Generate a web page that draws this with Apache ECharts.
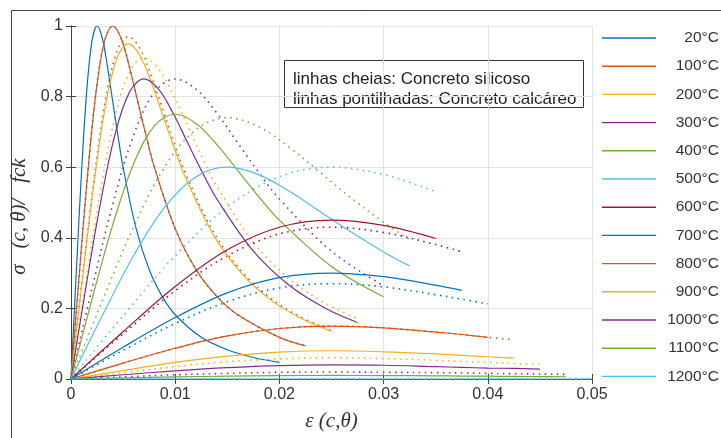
<!DOCTYPE html>
<html>
<head>
<meta charset="utf-8">
<script src="https://cdn.jsdelivr.net/npm/echarts@6/dist/echarts.min.js"></script>
<style>
  html, body { margin: 0; padding: 0; background: #fff; }
  #chart { width: 721px; height: 438px; }
</style>
</head>
<body>
<div id="chart"></div>
<script>
// temperaturas (legenda)
const temps = ['20°C', '100°C', '200°C', '300°C', '400°C', '500°C', '600°C',
  '700°C', '800°C', '900°C', '1000°C', '1100°C', '1200°C'];

// ticks
const xTicks = [0, 0.01, 0.02, 0.03, 0.04, 0.05];
const yTicks = [0, 0.2, 0.4, 0.6, 0.8, 1];

// concreto silicoso (linhas cheias) - pares [ε, σ/fck]
const sil20 = [[0, 0], [0.0005, 0.299], [0.001, 0.581], [0.0015, 0.812], [0.002, 0.955], [0.0025, 1], [0.003, 0.966],
  [0.0035, 0.885], [0.004, 0.787], [0.0045, 0.69], [0.005, 0.6], [0.00625, 0.426], [0.0075, 0.31], [0.00875, 0.234],
  [0.01, 0.182], [0.0125, 0.118], [0.015, 0.083], [0.0175, 0.061], [0.02, 0.047]];
const sil100 = [[0, 0], [0.0008, 0.299], [0.0016, 0.581], [0.0024, 0.812], [0.0032, 0.955], [0.004, 1], [0.0048, 0.966],
  [0.0056, 0.885], [0.0064, 0.787], [0.0072, 0.69], [0.008, 0.6], [0.01, 0.426], [0.012, 0.31], [0.014, 0.234],
  [0.016, 0.182], [0.02, 0.118], [0.0225, 0.094]];
const sil200 = [[0, 0], [0.0011, 0.284], [0.0022, 0.552], [0.0033, 0.772], [0.0044, 0.908], [0.0055, 0.95], [0.0066, 0.917],
  [0.0077, 0.841], [0.0088, 0.748], [0.0099, 0.655], [0.011, 0.57], [0.01375, 0.404], [0.0165, 0.295], [0.01925, 0.222],
  [0.022, 0.173], [0.025, 0.135]];
const sil300 = [[0, 0], [0.0014, 0.254], [0.0028, 0.494], [0.0042, 0.69], [0.0056, 0.812], [0.007, 0.85], [0.0084, 0.821],
  [0.0098, 0.753], [0.0112, 0.669], [0.0126, 0.586], [0.014, 0.51], [0.0175, 0.362], [0.021, 0.264], [0.0245, 0.199],
  [0.0275, 0.16]];
const sil400 = [[0, 0], [0.002, 0.224], [0.004, 0.436], [0.006, 0.609], [0.008, 0.717], [0.01, 0.75], [0.012, 0.724],
  [0.014, 0.664], [0.016, 0.591], [0.018, 0.517], [0.02, 0.45], [0.025, 0.319], [0.03, 0.233]];
const sil500 = [[0, 0], [0.003, 0.179], [0.006, 0.349], [0.009, 0.487], [0.012, 0.573], [0.015, 0.6], [0.018, 0.579],
  [0.021, 0.531], [0.024, 0.472], [0.027, 0.414], [0.03, 0.36], [0.0325, 0.32]];
const sil600 = [[0, 0], [0.005, 0.134], [0.01, 0.262], [0.015, 0.366], [0.02, 0.43], [0.025, 0.45], [0.03, 0.435],
  [0.035, 0.398]];
const sil700 = [[0, 0], [0.005, 0.09], [0.01, 0.174], [0.015, 0.244], [0.02, 0.287], [0.025, 0.3], [0.03, 0.29],
  [0.035, 0.266], [0.0375, 0.251]];
const sil800 = [[0, 0], [0.005, 0.045], [0.01, 0.087], [0.015, 0.122], [0.02, 0.143], [0.025, 0.15], [0.03, 0.145],
  [0.035, 0.133], [0.0375, 0.126], [0.04, 0.118]];
const sil900 = [[0, 0], [0.005, 0.024], [0.01, 0.047], [0.015, 0.065], [0.02, 0.076], [0.025, 0.08], [0.03, 0.077],
  [0.035, 0.071], [0.0375, 0.067], [0.04, 0.063], [0.0425, 0.059]];
const sil1000 = [[0, 0], [0.005, 0.012], [0.01, 0.023], [0.015, 0.032], [0.02, 0.038], [0.025, 0.04], [0.03, 0.039],
  [0.035, 0.035], [0.0375, 0.033], [0.04, 0.031], [0.0425, 0.03], [0.045, 0.028]];
const sil1100 = [[0, 0], [0.005, 0.003], [0.01, 0.006], [0.015, 0.008], [0.02, 0.0096], [0.025, 0.01], [0.03, 0.0097],
  [0.035, 0.0089], [0.0375, 0.0084], [0.04, 0.0079], [0.0425, 0.0074], [0.045, 0.0069], [0.0475, 0.0064]];
const sil1200 = [[0, 0], [0.05, 0]];

// concreto calcáreo (linhas pontilhadas)
const cal20 = [[0, 0], [0.0008, 0.299], [0.0016, 0.581], [0.0024, 0.812], [0.0032, 0.955], [0.004, 1], [0.0048, 0.966],
  [0.0056, 0.885], [0.0064, 0.787], [0.0072, 0.69], [0.008, 0.6], [0.01, 0.426], [0.012, 0.31], [0.014, 0.234],
  [0.016, 0.182], [0.02, 0.118], [0.0225, 0.094]];
const cal100 = [[0, 0], [0.0011, 0.29], [0.0022, 0.564], [0.0033, 0.788], [0.0044, 0.927], [0.0055, 0.97], [0.0066, 0.937],
  [0.0077, 0.859], [0.0088, 0.764], [0.0099, 0.669], [0.011, 0.582], [0.01375, 0.413], [0.0165, 0.301], [0.01925, 0.227],
  [0.022, 0.176], [0.025, 0.138]];
const cal200 = [[0, 0], [0.0014, 0.272], [0.0028, 0.529], [0.0042, 0.739], [0.0056, 0.869], [0.007, 0.91], [0.0084, 0.879],
  [0.0098, 0.806], [0.0112, 0.717], [0.0126, 0.627], [0.014, 0.546], [0.0175, 0.387], [0.021, 0.282], [0.0245, 0.213],
  [0.0275, 0.171]];
const cal300 = [[0, 0], [0.002, 0.254], [0.004, 0.494], [0.006, 0.69], [0.008, 0.812], [0.01, 0.85], [0.012, 0.821],
  [0.014, 0.753], [0.016, 0.669], [0.018, 0.586], [0.02, 0.51], [0.025, 0.362], [0.03, 0.264]];
const cal400 = [[0, 0], [0.003, 0.221], [0.006, 0.43], [0.009, 0.601], [0.012, 0.707], [0.015, 0.74], [0.018, 0.715],
  [0.021, 0.655], [0.024, 0.583], [0.027, 0.51], [0.03, 0.444], [0.0325, 0.395]];
const cal500 = [[0, 0], [0.005, 0.179], [0.01, 0.349], [0.015, 0.487], [0.02, 0.573], [0.025, 0.6], [0.03, 0.579],
  [0.035, 0.531]];
const cal600 = [[0, 0], [0.005, 0.128], [0.01, 0.25], [0.015, 0.349], [0.02, 0.411], [0.025, 0.43], [0.03, 0.415],
  [0.035, 0.381], [0.0375, 0.36]];
const cal700 = [[0, 0], [0.005, 0.081], [0.01, 0.157], [0.015, 0.219], [0.02, 0.258], [0.025, 0.27], [0.03, 0.261],
  [0.035, 0.239], [0.0375, 0.226], [0.04, 0.213]];
const cal800 = [[0, 0], [0.005, 0.045], [0.01, 0.087], [0.015, 0.122], [0.02, 0.143], [0.025, 0.15], [0.03, 0.145],
  [0.035, 0.133], [0.0375, 0.126], [0.04, 0.118], [0.0425, 0.111]];
const cal900 = [[0, 0], [0.005, 0.018], [0.01, 0.035], [0.015, 0.049], [0.02, 0.057], [0.025, 0.06], [0.03, 0.058],
  [0.035, 0.053], [0.0375, 0.05], [0.04, 0.047], [0.0425, 0.044], [0.045, 0.041]];
const cal1000 = [[0, 0], [0.005, 0.006], [0.01, 0.012], [0.015, 0.016], [0.02, 0.019], [0.025, 0.02], [0.03, 0.019],
  [0.035, 0.018], [0.0375, 0.017], [0.04, 0.016], [0.0425, 0.015], [0.045, 0.014], [0.0475, 0.013]];
const cal1100 = [[0, 0], [0.05, 0]];
const cal1200 = [[0, 0], [0.05, 0]];

const silicoso = [sil20, sil100, sil200, sil300, sil400, sil500, sil600, sil700, sil800, sil900, sil1000, sil1100, sil1200];
const calcareo = [cal20, cal100, cal200, cal300, cal400, cal500, cal600, cal700, cal800, cal900, cal1000, cal1100, cal1200];

// cores padrão do matlab
const cores = ['#0072BD', '#D95319', '#EDB120', '#7E2F8E', '#77AC30', '#4DBEEE', '#A2142F'];

const series = [];
temps.forEach((t, i) => {
  const color = cores[i % cores.length];
  series.push({
    name: t,
    type: 'line',
    data: silicoso[i],
    symbol: 'none',
    smooth: 0.35,
    lineStyle: { width: 1.2, color },
    itemStyle: { color },
    z: 3,
  });
});
temps.forEach((t, i) => {
  const color = cores[i % cores.length];
  series.push({
    name: t,
    type: 'line',
    data: calcareo[i],
    symbol: 'none',
    smooth: 0.35,
    lineStyle: { width: 1.6, color, type: [1.5, 4.5] },
    itemStyle: { color },
    z: 2,
  });
});

const fonte = '"Liberation Sans", Arial, sans-serif';
const fonteSerif = '"Liberation Serif", serif';
const corTexto = '#333';

const chart = echarts.init(document.getElementById('chart'), null, { renderer: 'canvas' });
chart.setOption({
  animation: false,
  backgroundColor: '#fff',
  grid: { left: 71, right: 129, top: 26, bottom: 59, containLabel: false },
  legend: {
    data: temps,
    orient: 'vertical',
    left: 597,
    top: 25,
    itemWidth: 54,
    itemHeight: 16,
    itemGap: 12.2,
    icon: 'path://M0,0H100V2.6H0Z',
    formatter: '{t|{name}}',
    textStyle: {
      rich: { t: { width: 58, lineHeight: 16, align: 'right', fontSize: 15.5, fontFamily: fonte, color: corTexto } },
    },
  },
  xAxis: [
    {
      type: 'value',
      min: 0,
      max: 0.05,
      interval: 0.01,
      name: 'ε (c,θ)',
      nameLocation: 'middle',
      nameGap: 32,
      nameTextStyle: { fontFamily: fonteSerif, fontStyle: 'italic', fontSize: 21, color: corTexto },
      axisLine: { show: true, lineStyle: { color: '#444' } },
      axisTick: { show: true, inside: true, length: 5, lineStyle: { color: '#444' } },
      axisLabel: {
        margin: 8,
        fontSize: 16,
        fontFamily: fonte,
        color: corTexto,
        formatter: (v) => String(+v.toFixed(2)),
      },
      splitLine: { show: true, lineStyle: { color: '#e3e3e3' } },
    },
    {
      type: 'value',
      position: 'top',
      min: 0,
      max: 0.05,
      interval: 0.01,
      axisLine: { show: true, lineStyle: { color: '#444' } },
      axisTick: { show: true, inside: true, length: 5, lineStyle: { color: '#444' } },
      axisLabel: { show: false },
      splitLine: { show: false },
    },
  ],
  yAxis: [
    {
      type: 'value',
      min: 0,
      max: 1,
      interval: 0.2,
      name: 'σ   (c, θ)/   fck',
      nameLocation: 'middle',
      nameGap: 30,
      nameTextStyle: {
        fontFamily: fonteSerif, fontStyle: 'italic', fontSize: 21, color: corTexto, padding: [0, 28, 0, 0],
      },
      axisLine: { show: true, lineStyle: { color: '#444' } },
      axisTick: { show: true, inside: true, length: 5, lineStyle: { color: '#444' } },
      axisLabel: {
        margin: 8,
        fontSize: 16,
        fontFamily: fonte,
        color: corTexto,
        formatter: (v) => String(+v.toFixed(1)),
      },
      splitLine: { show: true, lineStyle: { color: '#e3e3e3' } },
    },
    {
      type: 'value',
      position: 'right',
      min: 0,
      max: 1,
      interval: 0.2,
      axisLine: { show: true, lineStyle: { color: '#444' } },
      axisTick: { show: true, inside: true, length: 5, lineStyle: { color: '#444' } },
      axisLabel: { show: false },
      splitLine: { show: false },
    },
  ],
  graphic: [
    {
      type: 'rect',
      silent: true,
      z: -1,
      shape: { x: 11.5, y: 10.5, width: 800, height: 500 },
      style: { fill: 'none', stroke: '#444', lineWidth: 1 },
    },
    {
      type: 'group',
      z: 100,
      children: [
        {
          type: 'rect',
          shape: { x: 284.5, y: 60.5, width: 299, height: 47 },
          style: { fill: '#fff', stroke: '#333', lineWidth: 1 },
        },
        {
          type: 'text',
          x: 293,
          y: 79,
          style: { text: 'linhas cheias: Concreto silicoso', font: '17px ' + fonte, fill: '#222', verticalAlign: 'middle' },
        },
        {
          type: 'text',
          x: 293,
          y: 99,
          style: { text: 'linhas pontilhadas: Concreto calcáreo', font: '17px ' + fonte, fill: '#222', verticalAlign: 'middle' },
        },
      ],
    },
  ],
  series,
});
</script>
</body>
</html>
